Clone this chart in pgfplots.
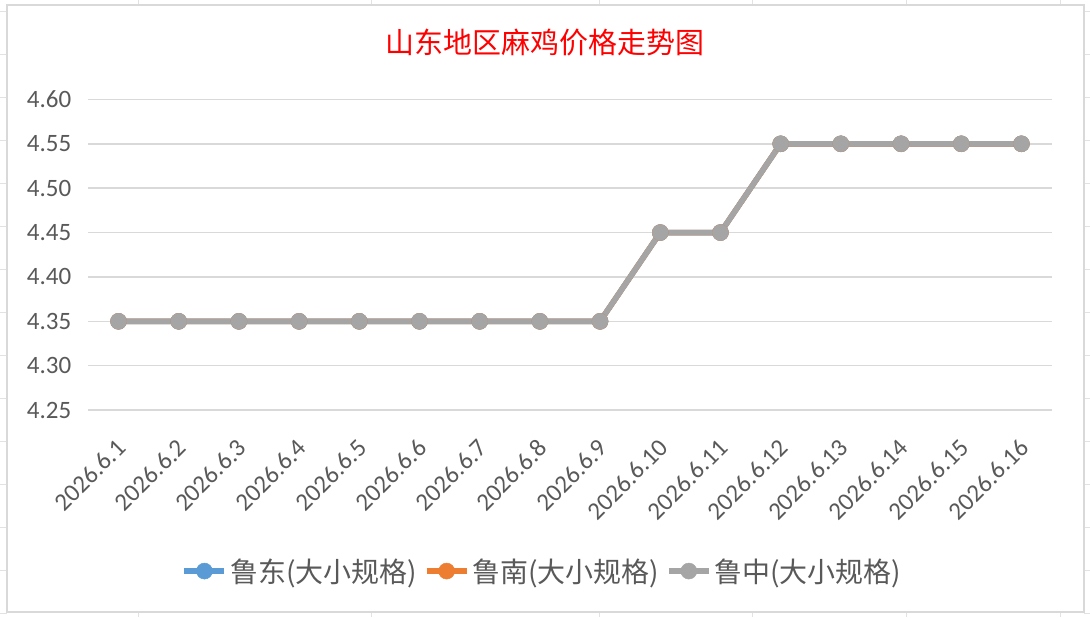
\documentclass[border=0pt]{standalone}
\usepackage{pgfplots}
\pgfplotsset{compat=1.18}
\usepackage{fontspec}
\setmainfont{Carlito}
\newfontfamily\cjk{Noto Sans CJK SC}
\definecolor{cblue}{HTML}{5B9BD5}
\definecolor{corange}{HTML}{ED7D31}
\definecolor{cgray}{HTML}{A5A5A5}
\definecolor{gridgray}{HTML}{D9D9D9}
\definecolor{tickgray}{HTML}{595959}
\definecolor{bordergray}{HTML}{D9D9D9}
\definecolor{bggrid}{HTML}{E2E2E2}
\pgfplotstableread{
x y
0 4.35
1 4.35
2 4.35
3 4.35
4 4.35
5 4.35
6 4.35
7 4.35
8 4.35
9 4.45
10 4.45
11 4.55
12 4.55
13 4.55
14 4.55
15 4.55
}\ludong
\pgfplotstableread{
x y
0 4.35
1 4.35
2 4.35
3 4.35
4 4.35
5 4.35
6 4.35
7 4.35
8 4.35
9 4.45
10 4.45
11 4.55
12 4.55
13 4.55
14 4.55
15 4.55
}\lunan
\pgfplotstableread{
x y
0 4.35
1 4.35
2 4.35
3 4.35
4 4.35
5 4.35
6 4.35
7 4.35
8 4.35
9 4.45
10 4.45
11 4.55
12 4.55
13 4.55
14 4.55
15 4.55
}\luzhong
\begin{document}
\begin{tikzpicture}[x=1pt,y=1pt]
\fill[white] (0,0) rectangle (1090,617);
\foreach \k in {0,...,14} {
  \pgfmathsetmacro\yy{617-11-43.07*\k}
  \draw[bggrid, line width=1pt] (0,\yy) -- (7,\yy);
  \draw[bggrid, line width=1pt] (1084,\yy) -- (1090,\yy);
}
\foreach \xx in {138,371,600,753,907,1061} {
  \draw[bggrid, line width=1pt] (\xx,617) -- (\xx,611);
  \draw[bggrid, line width=1pt] (\xx,0) -- (\xx,6);
}
\draw[bordergray, line width=2pt] (7,5) rectangle (1084,612);
\node[text=red, font=\cjk\fontsize{29}{34}\selectfont] at (545,575) {山东地区麻鸡价格走势图};
\begin{axis}[
  at={(88pt,207pt)}, anchor=south west,
  width=964pt, height=311pt, scale only axis,
  xmin=-0.5, xmax=15.5, ymin=4.25, ymax=4.60,
  ytick={4.25,4.30,4.35,4.40,4.45,4.50,4.55,4.60},
  xtick={0,1,2,3,4,5,6,7,8,9,10,11,12,13,14,15},
  xticklabels={2026.6.1,2026.6.2,2026.6.3,2026.6.4,2026.6.5,2026.6.6,2026.6.7,2026.6.8,2026.6.9,2026.6.10,2026.6.11,2026.6.12,2026.6.13,2026.6.14,2026.6.15,2026.6.16},
  axis line style={draw=none},
  major tick length=0pt,
  ymajorgrids, grid style={gridgray, line width=1.5pt},
  /pgf/number format/fixed, /pgf/number format/fixed zerofill,
  /pgf/number format/precision=2, /pgf/number format/assume math mode=true,
  tick label style={font=\fontsize{25}{28}\selectfont, text=tickgray},
  yticklabel style={anchor=east, inner sep=0pt, xshift=-17pt},
  xticklabel style={xshift=3pt, yshift=-33.5pt, rotate=45, anchor=east, inner sep=0pt},
  clip=false,
  legend columns=3,
  legend style={at={(0.472,-0.518)}, anchor=center, draw=none, fill=none,
    font=\cjk\fontsize{28}{32}\selectfont, text=tickgray,
    /tikz/every even column/.append style={column sep=4pt},
    nodes={inner sep=3pt}},
  legend image code/.code={\draw[mark repeat=2,mark phase=2,#1] plot coordinates {(0pt,0pt) (20pt,0pt) (40pt,0pt)};},
  every axis plot/.append style={line width=5.5pt, mark=*, mark size=8pt},
]
\addplot[cblue, mark options={fill=cblue, draw=cblue, line width=0.5pt}] table[x=x,y=y] {\ludong};
\addlegendentry{鲁东(大小规格)}
\addplot[corange, mark options={fill=corange, draw=corange, line width=0.5pt}] table[x=x,y=y] {\lunan};
\addlegendentry{鲁南(大小规格)}
\addplot[cgray, mark options={fill=cgray, draw=cgray, line width=0.5pt}] table[x=x,y=y] {\luzhong};
\addlegendentry{鲁中(大小规格)}
\end{axis}
\end{tikzpicture}
\end{document}
